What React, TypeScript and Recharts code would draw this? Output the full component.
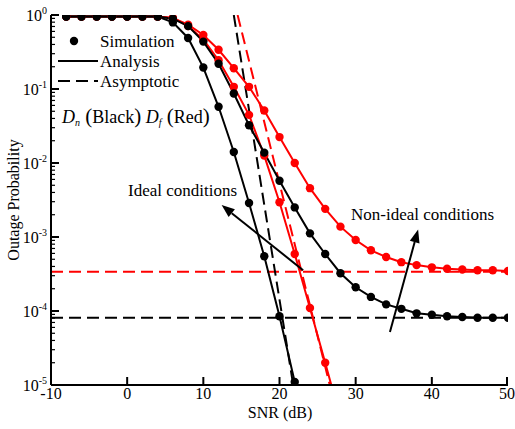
import React from 'react';
import { LineChart, Line, XAxis, YAxis, ReferenceLine } from 'recharts';

const snr = [-8, -6, -4, -2, 0, 2, 4, 6, 8, 10, 12, 14, 16, 18, 20, 22, 24, 26, 28, 30, 32, 34, 36, 38, 40, 42, 44, 46, 48, 50];
const blackIdeal = [0.955, 0.955, 0.955, 0.955, 0.955, 0.955, 0.955, 0.794, 0.49, 0.195, 0.0575, 0.0141, 0.00288, 0.00055, 8.5e-5, 1.1e-5];
const blackNonIdeal = [0.955, 0.955, 0.955, 0.955, 0.955, 0.955, 0.955, 0.891, 0.708, 0.437, 0.219, 0.087, 0.0324, 0.0138, 0.00575, 0.00251, 0.00112, 0.000589, 0.000324, 0.000209, 0.000155, 0.000123, 0.000107, 9.3e-5, 8.9e-5, 8.5e-5, 8.3e-5, 8.1e-5, 8.1e-5, 8.1e-5];
const redNonIdeal = [0.955, 0.955, 0.955, 0.955, 0.955, 0.955, 0.955, 0.912, 0.741, 0.537, 0.339, 0.191, 0.107, 0.0513, 0.0224, 0.01, 0.00457, 0.0024, 0.00138, 0.000912, 0.000661, 0.000537, 0.000457, 0.000417, 0.000389, 0.000372, 0.000363, 0.000355, 0.000355, 0.000347];
const redIdeal = [0.955, 0.955, 0.955, 0.955, 0.955, 0.955, 0.955, 0.912, 0.708, 0.468, 0.245, 0.107, 0.0447, 0.0126, 0.00295, 0.000589, 0.00011, 2e-5];
const blackIdealEnd = { x: 22.2, y: 1e-5 };
const redIdealEnd = { x: 26.8, y: 1e-5 };
const blackAsym = [{ x: 14, y: 1 }, { x: 21.8, y: 1e-5 }];
const redAsym = [{ x: 14.5, y: 1 }, { x: 26.6, y: 1e-5 }];
const blackFloor = 8.1e-5;
const redFloor = 3.4e-4;
const xTicks = [-10, 0, 10, 20, 30, 40, 50];
const decades = [1e-5, 1e-4, 1e-3, 1e-2, 1e-1, 1];
const decadeLabels = ['-5', '-4', '-3', '-2', '-1', '0'];
const minorMult = [2, 3, 4, 5, 6, 7, 8, 9];

const yTicks: number[] = [];
decades.forEach((d, i) => {
  yTicks.push(d);
  if (i < decades.length - 1) minorMult.forEach(m => yTicks.push(d * m));
});

const toPts = (vals: number[], extra?: { x: number; y: number }) => {
  const p = vals.map((v, i) => ({ x: snr[i], y: v, sim: true }));
  if (extra) p.push({ ...extra, sim: false });
  return p;
};

const FONT = "'Liberation Serif', 'DejaVu Serif', serif";
const TS = { fontFamily: FONT };

const isMajor = (v: number) => decades.some(d => Math.abs(d - v) / d < 1e-6);

const LeftTick = (props: any) => {
  const { x, y, payload } = props;
  const v = payload.value;
  const major = isMajor(v);
  const idx = decades.findIndex(d => Math.abs(d - v) / d < 1e-6);
  return (
    <g>
      <line x1={x} x2={x + (major ? 8 : 4)} y1={y} y2={y} stroke="#000" strokeWidth={major ? 2 : 1.2} />
      {major && (
        <text x={x - 4} y={y + 6} textAnchor="end" style={TS} fontSize={16} fill="#000">
          10<tspan dy={-7} fontSize={10}>{decadeLabels[idx]}</tspan>
        </text>
      )}
    </g>
  );
};
const RightTick = (props: any) => {
  const { x, y, payload } = props;
  const major = isMajor(payload.value);
  return <line x1={x} x2={x - (major ? 8 : 4)} y1={y} y2={y} stroke="#000" strokeWidth={major ? 2 : 1.2} />;
};
const BottomTick = (props: any) => {
  const { x, y, payload } = props;
  return (
    <g>
      <line x1={x} x2={x} y1={y} y2={y - 8} stroke="#000" strokeWidth={2} />
      <text x={x} y={y + 14} textAnchor="middle" style={TS} fontSize={16} fill="#000">{payload.value}</text>
    </g>
  );
};
const TopTick = (props: any) => {
  const { x, y } = props;
  return <line x1={x} x2={x} y1={y} y2={y + 8} stroke="#000" strokeWidth={2} />;
};

const SimDot = (color: string) => (props: any) => {
  const { cx, cy, payload, index } = props;
  if (!payload.sim) return <g key={index} />;
  return <circle key={index} cx={cx} cy={cy} r={4.2} fill={color} />;
};

const Arrow = (props: any) => {
  const { x1, y1, x2, y2 } = props;
  const ang = Math.atan2(y2 - y1, x2 - x1);
  const L = 13, W = 5;
  const bx = x2 - L * Math.cos(ang), by = y2 - L * Math.sin(ang);
  const p1 = `${bx + W * Math.sin(ang)},${by - W * Math.cos(ang)}`;
  const p2 = `${bx - W * Math.sin(ang)},${by + W * Math.cos(ang)}`;
  return (
    <g>
      <line x1={x1} y1={y1} x2={bx} y2={by} stroke="#000" strokeWidth={2} />
      <polygon points={`${x2},${y2} ${p1} ${p2}`} fill="#000" />
    </g>
  );
};

export default function App() {
  return (
    <div style={{ position: 'absolute', left: 0, top: 0, width: 515, height: 429, background: '#fff', fontFamily: FONT }}>
      <LineChart width={515} height={429} margin={{ top: 15, right: 7, left: 10, bottom: 14 }}>
        <XAxis xAxisId="b" dataKey="x" type="number" domain={[-10, 50]} ticks={xTicks} height={30} tickLine={false} tickSize={0} tickMargin={0} tick={<BottomTick />} axisLine={{ stroke: '#000', strokeWidth: 2 }} allowDataOverflow />
        <XAxis xAxisId="t" orientation="top" dataKey="x" type="number" domain={[-10, 50]} ticks={xTicks} height={0} tickLine={false} tickSize={0} tick={<TopTick />} axisLine={{ stroke: '#000', strokeWidth: 2 }} />
        <YAxis yAxisId="l" scale="log" type="number" domain={[1e-5, 1]} ticks={yTicks} width={41} tickLine={false} tickSize={0} tickMargin={0} tick={<LeftTick />} axisLine={{ stroke: '#000', strokeWidth: 2 }} interval={0} allowDataOverflow />
        <YAxis yAxisId="r" orientation="right" scale="log" type="number" domain={[1e-5, 1]} ticks={yTicks} width={0} tickLine={false} tickSize={0} tickMargin={0} tick={<RightTick />} axisLine={{ stroke: '#000', strokeWidth: 2 }} interval={0} allowDataOverflow />
        <ReferenceLine xAxisId="b" yAxisId="l" y={redFloor} stroke="#f00" strokeWidth={2} strokeDasharray="12 6" />
        <ReferenceLine xAxisId="b" yAxisId="l" y={blackFloor} stroke="#000" strokeWidth={2} strokeDasharray="12 6" />
        <Line xAxisId="b" yAxisId="l" data={blackAsym} dataKey="y" type="linear" stroke="#000" strokeWidth={2} strokeDasharray="12 6" dot={false} isAnimationActive={false} />
        <Line xAxisId="b" yAxisId="l" data={redAsym} dataKey="y" type="linear" stroke="#f00" strokeWidth={2} strokeDasharray="12 6" dot={false} isAnimationActive={false} />
        <Line xAxisId="b" yAxisId="l" data={toPts(redNonIdeal)} dataKey="y" type="linear" stroke="#f00" strokeWidth={2} dot={SimDot('#f00')} isAnimationActive={false} />
        <Line xAxisId="b" yAxisId="l" data={toPts(redIdeal, redIdealEnd)} dataKey="y" type="linear" stroke="#f00" strokeWidth={2} dot={SimDot('#f00')} isAnimationActive={false} />
        <Line xAxisId="b" yAxisId="l" data={toPts(blackNonIdeal)} dataKey="y" type="linear" stroke="#000" strokeWidth={2} dot={SimDot('#000')} isAnimationActive={false} />
        <Line xAxisId="b" yAxisId="l" data={toPts(blackIdeal, blackIdealEnd)} dataKey="y" type="linear" stroke="#000" strokeWidth={2} dot={SimDot('#000')} isAnimationActive={false} />
        <ReferenceLine xAxisId="b" yAxisId="l" segment={[{ x: 23.1, y: 0.000355 }, { x: 12.4, y: 0.0027 }]} shape={<Arrow />} />
        <ReferenceLine xAxisId="b" yAxisId="l" segment={[{ x: 34.5, y: 5.2e-5 }, { x: 38.2, y: 0.00126 }]} shape={<Arrow />} />
      </LineChart>
      <svg width={515} height={429} style={{ position: 'absolute', left: 0, top: 0, pointerEvents: 'none', fontFamily: FONT }}>
        <circle cx={74} cy={41} r={4.2} fill="#000" />
        <text x={100} y={47} fontSize={17}>Simulation</text>
        <line x1={58} x2={98} y1={61} y2={61} stroke="#000" strokeWidth={2} />
        <text x={100} y={67} fontSize={17}>Analysis</text>
        <line x1={58} x2={98} y1={81} y2={81} stroke="#000" strokeWidth={2} strokeDasharray="12 6" />
        <text x={100} y={87} fontSize={17}>Asymptotic</text>
        <text x={62} y={123} fontSize={18}>
          <tspan fontStyle="italic">D</tspan><tspan fontStyle="italic" fontSize={10} dy={3}>n</tspan>
          <tspan dy={-3} fontSize={21}> (</tspan><tspan>Black</tspan><tspan fontSize={21}>)</tspan>
          <tspan fontStyle="italic"> D</tspan><tspan fontStyle="italic" fontSize={10} dy={3}>f</tspan>
          <tspan dy={-3} fontSize={21}> (</tspan><tspan>Red</tspan><tspan fontSize={21}>)</tspan>
        </text>
        <text x={128} y={196} fontSize={17}>Ideal conditions</text>
        <text x={351} y={220} fontSize={17}>Non-ideal conditions</text>
        <text x={280} y={418} fontSize={16} textAnchor="middle">SNR (dB)</text>
        <text x={19} y={200} fontSize={16} textAnchor="middle" transform="rotate(-90 19 200)">Outage Probability</text>
      </svg>
    </div>
  );
}
